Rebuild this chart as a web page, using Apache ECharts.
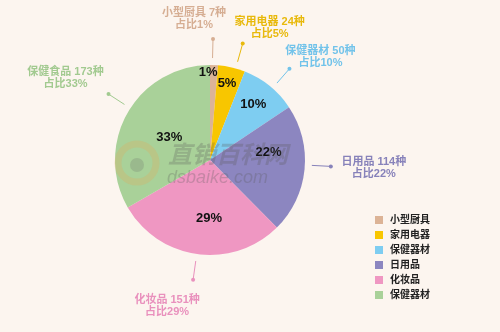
<!DOCTYPE html>
<html><head><meta charset="utf-8">
<script src="https://cdn.jsdelivr.net/npm/echarts@6/dist/echarts.min.js"></script>
<style>html,body{margin:0;padding:0;background:#fcf5ef}#c{width:500px;height:332px}</style>
</head><body><div id="c"></div>
<script>
// ---- data ----
const categories = ['小型厨具', '家用电器', '保健器材', '日用品', '化妆品', '保健食品'];
const counts = [7, 24, 50, 114, 151, 173];
const legendLabels = ['小型厨具', '家用电器', '保健器材', '日用品', '化妆品', '保健器材'];

// ---- style / layout ----
const sliceColors = ['#dcb396', '#f8c600', '#7ecdf1', '#8c86c0', '#ef97c2', '#a9d199'];
const labelColors = ['#d6ae93', '#e8b90c', '#72c3ea', '#8782ba', '#e991bd', '#a2ca90'];
const CX = 210, CY = 160, R = 95;
const innerLabelPos = [[-3.7, 0.92], [-0.7, 0.83], [-0.8, 0.74], [-12.7, 0.62], [-6.6, 0.61], [-1, 0.49]];
const outerLineShift = [-1, 2.5, 2.2, -2.7, 0.4, 3];
const outerLabelOffset = [[-19, -20], [27, -16], [31, -12], [43, 1.5], [-26, 26.5], [-43, -16]];
const FONT = '"Liberation Sans", "Noto Sans CJK SC", sans-serif';

function rot(pt, deg) {
  const a = deg * Math.PI / 180, dx = pt[0] - CX, dy = pt[1] - CY;
  return [CX + dx * Math.cos(a) - dy * Math.sin(a), CY + dx * Math.sin(a) + dy * Math.cos(a)];
}

const chart = echarts.init(document.getElementById('c'), null, {renderer: 'canvas'});
const baseData = (extra) => categories.map((n, i) => Object.assign({name: n, value: counts[i]}, extra(i)));

chart.setOption({
  animation: false,
  backgroundColor: '#fcf5ef',
  legend: {
    orient: 'vertical', left: 370, top: 210,
    itemWidth: 8, itemHeight: 8, itemGap: 5, icon: 'rect',
    selectedMode: false,
    data: categories,
    formatter: (n) => legendLabels[categories.indexOf(n)],
    textStyle: {fontSize: 10, fontWeight: 'bold', color: '#222', fontFamily: FONT, padding: [0, 0, 0, 2]}
  },
  graphic: [
    {type: 'circle', z: 100, silent: true, shape: {cx: 137, cy: 163, r: 19},
     style: {fill: 'none', stroke: 'rgba(225,170,90,0.28)', lineWidth: 7}},
    {type: 'circle', z: 100, silent: true, shape: {cx: 137, cy: 165, r: 7},
     style: {fill: 'rgba(100,100,100,0.22)'}},
    {type: 'text', z: 100, silent: true, x: 168, y: 154,
     style: {text: '直销百科网', font: 'italic bold 24px "Noto Sans CJK SC"', fill: 'rgba(90,90,90,0.28)', verticalAlign: 'middle'}},
    {type: 'text', z: 100, silent: true, x: 167, y: 178,
     style: {text: 'dsbaike.com', font: 'italic 18px "Liberation Sans"', fill: 'rgba(90,90,90,0.28)', verticalAlign: 'middle'}}
  ],
  series: [
    {
      type: 'pie', center: [CX, CY], radius: [0, R], startAngle: 90, clockwise: true,
      percentPrecision: 0, silent: true,
      data: baseData(i => ({itemStyle: {color: sliceColors[i]}})),
      label: {show: true, position: 'inside', formatter: '{d}%', color: '#111',
              fontSize: 13, fontWeight: 'bold', fontFamily: FONT},
      labelLine: {show: false},
      labelLayout: function (p) {
        const r = p.labelRect;
        const lx = r.x + r.width / 2, ly = r.y + r.height / 2;
        const pos = innerLabelPos[p.dataIndex];
        const a = Math.atan2(ly - CY, lx - CX) + pos[0] * Math.PI / 180;
        const rr = R * pos[1];
        return {x: CX + rr * Math.cos(a), y: CY + rr * Math.sin(a), align: 'center', verticalAlign: 'middle'};
      }
    },
    {
      type: 'pie', center: [CX, CY], radius: [0, 102], startAngle: 90, clockwise: true,
      percentPrecision: 0, silent: true, avoidLabelOverlap: false,
      data: baseData(i => ({
        itemStyle: {color: 'rgba(0,0,0,0)'},
        label: {color: labelColors[i]},
        labelLine: {lineStyle: {color: labelColors[i]}}
      })),
      label: {show: true, position: 'outside', formatter: '{b} {c}种\n占比{d}%',
              fontSize: 11, lineHeight: 12, fontWeight: 'bold', fontFamily: FONT, distanceToLabelLine: 0},
      labelLine: {show: true, length: 19, length2: 0, lineStyle: {width: 1}},
      labelLayout: function (p) {
        const pts = p.labelLinePoints;
        if (!pts) return {};
        const s = outerLineShift[p.dataIndex];
        const a = rot(pts[0], s), e = rot(pts[1], s);
        const o = outerLabelOffset[p.dataIndex];
        return {x: e[0] + o[0], y: e[1] + o[1], align: 'center', verticalAlign: 'middle',
                labelLinePoints: [a, e]};
      }
    },
    {
      type: 'pie', center: [CX, CY], radius: [0, 121], startAngle: 90, clockwise: true,
      silent: true, avoidLabelOverlap: false,
      data: baseData(i => ({
        itemStyle: {color: 'rgba(0,0,0,0)'},
        label: {rich: {d: {width: 4, height: 4, borderRadius: 2, backgroundColor: labelColors[i]}}}
      })),
      label: {show: true, position: 'outside', formatter: '{d|}', distanceToLabelLine: 0},
      labelLine: {show: true, length: 0, length2: 0, lineStyle: {opacity: 0, width: 0}},
      labelLayout: function (p) {
        const pts = p.labelLinePoints;
        if (!pts) return {};
        const e = rot(pts[0], outerLineShift[p.dataIndex]);
        return {x: e[0], y: e[1], align: 'center', verticalAlign: 'middle'};
      }
    }
  ]
});
</script>
</body></html>
